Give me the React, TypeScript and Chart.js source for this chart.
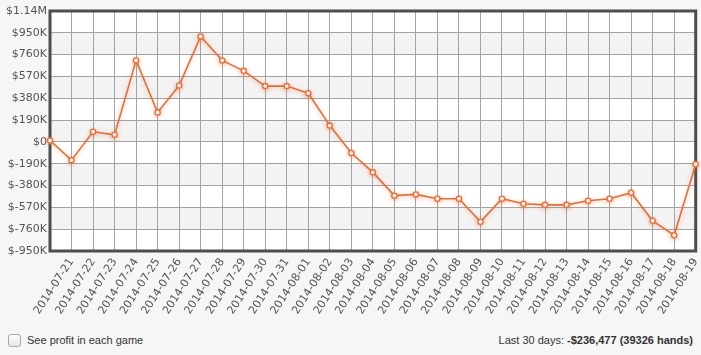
import React, { useEffect, useRef } from "react";
import { Chart, registerables } from "chart.js";

Chart.register(...registerables);

const dateLabels: string[] = [
  "",
  "2014-07-21", "2014-07-22", "2014-07-23", "2014-07-24", "2014-07-25",
  "2014-07-26", "2014-07-27", "2014-07-28", "2014-07-29", "2014-07-30",
  "2014-07-31", "2014-08-01", "2014-08-02", "2014-08-03", "2014-08-04",
  "2014-08-05", "2014-08-06", "2014-08-07", "2014-08-08", "2014-08-09",
  "2014-08-10", "2014-08-11", "2014-08-12", "2014-08-13", "2014-08-14",
  "2014-08-15", "2014-08-16", "2014-08-17", "2014-08-18", "2014-08-19",
];

const profitValues: number[] = [
  12000, -159000, 88000, 62000, 710000, 256000, 491000, 919000, 710000, 619000,
  486000, 486000, 424000, 142000, -97000, -265000, -468000, -457000, -495000, -495000,
  -695000, -495000, -539000, -548000, -548000, -513000, -495000, -442000, -687000, -813000,
  -194000,
];

// bottom to top
const yTickLabels: string[] = [
  "$-950K", "$-760K", "$-570K", "$-380K", "$-190K", "$0",
  "$190K", "$380K", "$570K", "$760K", "$950K", "$1.14M",
];
const yMin = -950000;
const yMax = 1140000;
const yStep = 190000;

const summaryLabel = "Last 30 days: ";
const summaryValue = "-$236,477 (39326 hands)";
const checkboxLabel = "See profit in each game";

const bandsPlugin = {
  id: "bands",
  beforeDraw(chart: any) {
    const { ctx, chartArea } = chart;
    const y = chart.scales.y;
    ctx.save();
    ctx.fillStyle = "#ffffff";
    ctx.fillRect(chartArea.left, chartArea.top, chartArea.right - chartArea.left, chartArea.bottom - chartArea.top);
    ctx.fillStyle = "#f3f3f3";
    const ticks = y.ticks;
    for (let k = 0; k < ticks.length - 1; k++) {
      if (k % 2 === 1) {
        const y0 = y.getPixelForValue(ticks[k].value);
        const y1 = y.getPixelForValue(ticks[k + 1].value);
        ctx.fillRect(chartArea.left, y1, chartArea.right - chartArea.left, y0 - y1);
      }
    }
    ctx.restore();
  },
  beforeDatasetsDraw(chart: any) {
    const { ctx, chartArea } = chart;
    ctx.save();
    ctx.strokeStyle = "#4d4d4d";
    ctx.lineWidth = 3;
    ctx.strokeRect(chartArea.left, chartArea.top, chartArea.right - chartArea.left, chartArea.bottom - chartArea.top);
    ctx.restore();
  },
  beforeDatasetDraw(chart: any) {
    const ctx = chart.ctx;
    ctx.save();
    ctx.shadowColor = "rgba(235,120,60,0.45)";
    ctx.shadowBlur = 4;
    ctx.shadowOffsetY = 1;
  },
  afterDatasetDraw(chart: any) {
    chart.ctx.restore();
  },
};

const font = { family: "'DejaVu Sans', Verdana, sans-serif", size: 11 };

export default function App() {
  const canvasRef = useRef<HTMLCanvasElement | null>(null);

  useEffect(() => {
    document.body.style.margin = "0";
    document.body.style.background = "#f6f6f6";
    const canvas = canvasRef.current;
    if (!canvas) return;
    const chart = new Chart(canvas, {
      type: "line",
      data: {
        labels: dateLabels,
        datasets: [
          {
            data: profitValues,
            borderColor: "#e0703f",
            borderWidth: 1.6,
            pointRadius: 2.6,
            pointBackgroundColor: "#ffffff",
            pointBorderColor: "#e0703f",
            pointBorderWidth: 1.3,
            tension: 0,
            clip: false as any,
          },
        ],
      },
      options: {
        animation: false,
        responsive: false,
        devicePixelRatio: 1,
        layout: { padding: { left: 0, right: 5, top: 11, bottom: 0 } },
        plugins: { legend: { display: false }, tooltip: { enabled: false } },
        scales: {
          x: {
            grid: { color: "#a3a3a3", lineWidth: 1, drawTicks: false },
            border: { display: false },
            ticks: {
              autoSkip: false,
              minRotation: 57,
              maxRotation: 57,
              padding: 5,
              color: "#555555",
              font,
            },
            afterFit: (s: any) => {
              s.height = 74;
              s.paddingLeft = 0;
              s.paddingRight = 0;
            },
          },
          y: {
            min: yMin,
            max: yMax,
            grid: { color: "#a3a3a3", lineWidth: 1, drawTicks: false },
            border: { display: false },
            ticks: {
              stepSize: yStep,
              padding: 3,
              color: "#555555",
              font,
              callback: (_v: any, i: number) => yTickLabels[i],
            },
            afterFit: (s: any) => {
              s.width = 50;
            },
          },
        },
      },
      plugins: [bandsPlugin],
    });
    return () => chart.destroy();
  }, []);

  return (
    <div style={{ position: "relative", width: 701, height: 355, background: "#f6f6f6", overflow: "hidden" }}>
      <canvas ref={canvasRef} width={701} height={325} style={{ position: "absolute", left: 0, top: 0 }} />
      <div
        style={{
          position: "absolute",
          left: 8,
          top: 334,
          width: 11,
          height: 11,
          border: "1px solid #a9a9a9",
          borderRadius: 3,
          background: "linear-gradient(#fdfdfd, #e6e6e6)",
        }}
      />
      <div
        style={{
          position: "absolute",
          left: 27,
          top: 333,
          fontFamily: "'Liberation Sans', Arial, sans-serif",
          fontSize: 11,
          lineHeight: "14px",
          color: "#333",
          whiteSpace: "nowrap",
        }}
      >
        {checkboxLabel}
      </div>
      <div
        style={{
          position: "absolute",
          right: 8,
          top: 333,
          fontFamily: "'Liberation Sans', Arial, sans-serif",
          fontSize: 11,
          lineHeight: "14px",
          color: "#333",
          whiteSpace: "nowrap",
        }}
      >
        {summaryLabel}
        <b>{summaryValue}</b>
      </div>
    </div>
  );
}
